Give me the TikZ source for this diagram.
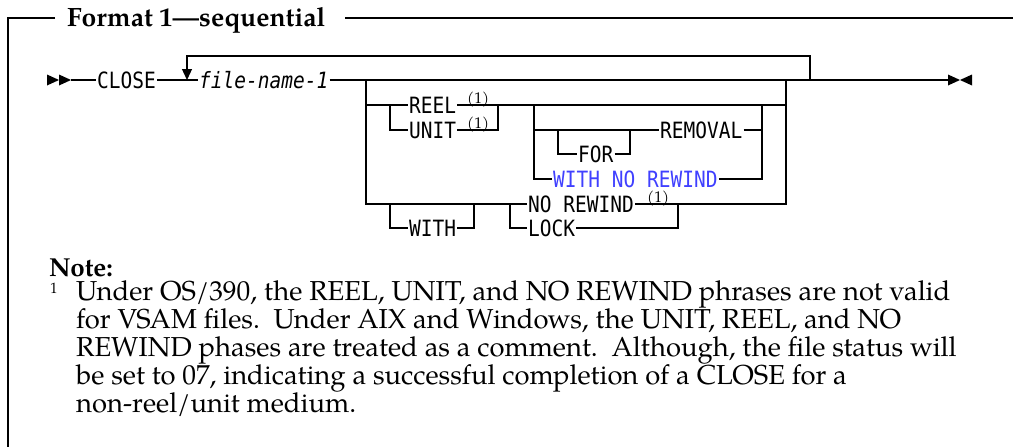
\documentclass[tikz,border=0pt]{standalone}
\usepackage{fontspec}
\usepackage{graphicx}
\usetikzlibrary{arrows.meta}
\newfontfamily\railmono{DejaVu Sans Mono}
\newfontfamily\noteserif{texgyrepagella}[Extension=.otf, UprightFont=*-regular, BoldFont=*-bold]
\newcommand\railfont{\railmono\fontsize{19.5}{20}\selectfont}
\newcommand\kwtext[1]{\scalebox{1}[1.15]{#1}}
\definecolor{kwblue}{RGB}{64,64,255}
\tikzset{
  rail/.style={line width=1.3pt},
  kw/.style={anchor=west, inner xsep=1pt, inner ysep=0pt, font=\railfont, text height=16.3pt, text depth=0pt},
  noteref/.style={anchor=base west, inner sep=0pt, font=\noteserif\fontsize{15.5}{15.5}\selectfont},
  tipfill/.style={fill=black, draw=none},
  frameline/.style={line width=1.3pt},
  notetext/.style={anchor=base west, inner sep=0pt, font=\noteserif\fontsize{27.4}{28}\selectfont},
  headtext/.style={anchor=base west, inner sep=0pt, font=\noteserif\bfseries\fontsize{26.5}{27}\selectfont},
}
\begin{document}
\begin{tikzpicture}[x=1pt,y=-1pt]
\useasboundingbox (0,0) rectangle (1013,447);
% frame and title
\node[headtext] (title) at (67,26.5) {Format 1\textemdash sequential};
\draw[frameline] (55,18) -- (8,18) -- (8,460);
\draw[frameline] (345,18) -- (1020,18);
% keyword nodes
\node[kw] (close) at (96,80) {\kwtext{CLOSE}};
\node[kw] (fname) at (198,80) {\kwtext{\itshape file-name-1}};
\node[kw] (reel) at (408,105) {\kwtext{REEL}};
\node[kw] (unit) at (408,130) {\kwtext{UNIT}};
\node[kw] (forkw) at (577,154) {\kwtext{FOR}};
\node[kw] (removal) at (659,130) {\kwtext{REMOVAL}};
\node[kw, text=kwblue] (wnr) at (552,179) {\kwtext{WITH NO REWIND}};
\node[kw] (withkw) at (408,228) {\kwtext{WITH}};
\node[kw] (norew) at (527,204) {\kwtext{NO REWIND}};
\node[kw] (lock) at (527,228) {\kwtext{LOCK}};
\node[noteref] (fnA) at (467,103) {(1)};
\node[noteref] (fnB) at (467,128) {(1)};
\node[noteref] (fnC) at (647,202) {(1)};
% junction coordinates
\coordinate (start) at (71,80);
\coordinate (loopx) at (187,80);
\coordinate (looptop) at (187,56);
\coordinate (loopR) at (810,56);
\coordinate (loopRb) at (810,80);
\coordinate (endx) at (948,80);
\coordinate (gL) at (366,80);
\coordinate (gLb) at (366,204);
\coordinate (gR) at (786,80);
\coordinate (gRb) at (786,204);
\coordinate (r1L) at (366,105);
\coordinate (r1R) at (786,105);
\coordinate (ruL) at (390,105);
\coordinate (ruLb) at (390,130);
\coordinate (ruR) at (498,105);
\coordinate (ruRb) at (498,130);
\coordinate (inL) at (534,105);
\coordinate (inLb) at (534,179);
\coordinate (inR) at (762,105);
\coordinate (inRb) at (762,179);
\coordinate (in2L) at (534,130);
\coordinate (in2R) at (762,130);
\coordinate (fL) at (558,130);
\coordinate (fLb) at (558,154);
\coordinate (fR) at (630,130);
\coordinate (fRb) at (630,154);
\coordinate (wL) at (390,204);
\coordinate (wLb) at (390,228);
\coordinate (wR) at (474,204);
\coordinate (wRb) at (474,228);
\coordinate (nL) at (510,204);
\coordinate (nLb) at (510,228);
\coordinate (nR) at (678,204);
\coordinate (nRb) at (678,228);
% start and end marks
\fill[tipfill] (47,74.5) -- (59,80) -- (47,85.5) -- cycle;
\fill[tipfill] (59,74.5) -- (71,80) -- (59,85.5) -- cycle;
\fill[tipfill] (948,74.5) -- (960,80) -- (948,85.5) -- cycle;
\fill[tipfill] (972,74.5) -- (960,80) -- (972,85.5) -- cycle;
% main line and repeat loop
\draw[rail] (start) -- (close.west);
\draw[rail] (close.east) -- (fname.west);
\draw[rail] (fname.east) -- (endx);
\draw[rail, -{Triangle[length=11pt,width=10pt]}] (loopRb) -- (loopR) -- (looptop) -- (loopx);
% big optional group
\draw[rail] (gL) -- (gLb) -- (norew.west);
\draw[rail] (norew.east) -- (gRb) -- (gR);
\draw[rail] (r1L) -- (reel.west);
\draw[rail] (reel.east) -- (r1R);
\draw[rail] (ruL) -- (ruLb) -- (unit.west);
\draw[rail] (unit.east) -- (ruRb) -- (ruR);
\draw[rail] (inL) -- (inLb) -- (wnr.west);
\draw[rail] (wnr.east) -- (inRb) -- (inR);
\draw[rail] (in2L) -- (removal.west);
\draw[rail] (removal.east) -- (in2R);
\draw[rail] (fL) -- (fLb) -- (forkw.west);
\draw[rail] (forkw.east) -- (fRb) -- (fR);
\draw[rail] (wL) -- (wLb) -- (withkw.west);
\draw[rail] (withkw.east) -- (wRb) -- (wR);
\draw[rail] (nL) -- (nLb) -- (lock.west);
\draw[rail] (lock.east) -- (nRb) -- (nR);
% note
\node[anchor=base west, inner sep=0pt, font=\noteserif\bfseries\fontsize{26}{26}\selectfont] (notehd) at (49,276) {Note:};
\node[anchor=base west, inner sep=0pt, font=\noteserif\fontsize{15}{15}\selectfont] (sup1) at (50,293) {1};
\node[notetext] (nl1) at (76,300) {Under OS/390, the REEL, UNIT, and NO REWIND phrases are not valid};
\node[notetext] (nl2) at (76,328) {for VSAM files.\ \ Under AIX and Windows, the UNIT, REEL, and NO};
\node[notetext] (nl3) at (76,356) {REWIND phases are treated as a comment.\ \ Although, the file status will};
\node[notetext] (nl4) at (76,384) {be set to 07, indicating a successful completion of a CLOSE for a};
\node[notetext] (nl5) at (76,412) {non-reel/unit medium.};
\end{tikzpicture}
\end{document}
